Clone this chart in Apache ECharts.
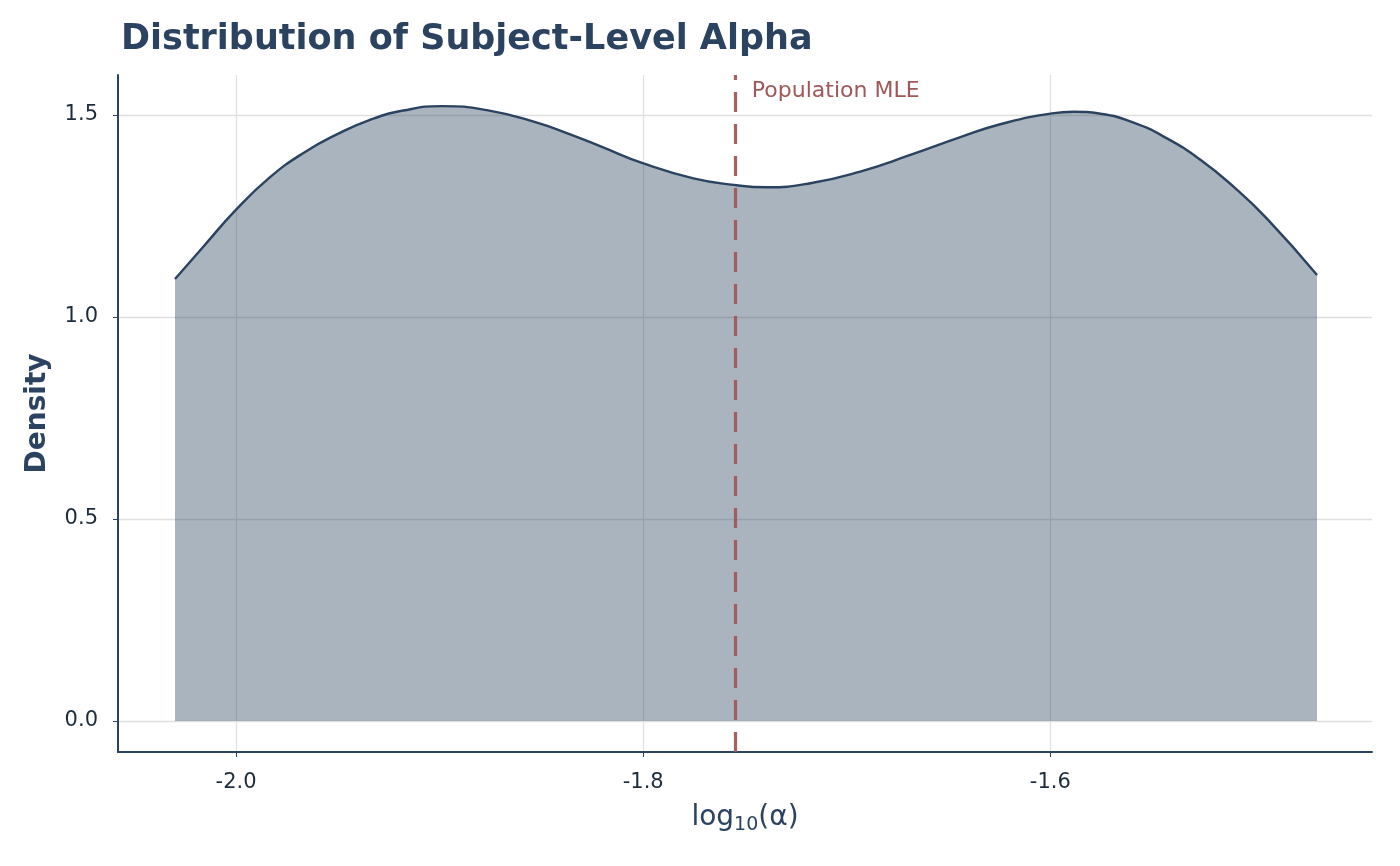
<!DOCTYPE html>
<html>
<head>
<meta charset="utf-8">
<script src="https://cdn.jsdelivr.net/npm/echarts@6/dist/echarts.min.js"></script>
<style>
  html, body { margin: 0; padding: 0; background: #fff; }
  #chart { width: 1400px; height: 866px; }
</style>
</head>
<body>
<div id="chart"></div>
<script>
// density curve
var alphaLog = [-2.0300, -2.0161, -2.0001, -1.9833, -1.9669, -1.9505, -1.9342, -1.9178, -1.8989,
  -1.8768, -1.8522, -1.8359, -1.8203, -1.7999, -1.7753, -1.7556, -1.7392, -1.7179, -1.6934,
  -1.6688, -1.6442, -1.6246, -1.5992, -1.5885, -1.5754, -1.5591, -1.5427, -1.5263, -1.5099,
  -1.4935, -1.4690];
var density = [1.094, 1.174, 1.265, 1.346, 1.406, 1.452, 1.488, 1.511, 1.522,
  1.512, 1.481, 1.452, 1.421, 1.380, 1.343, 1.327, 1.321, 1.331, 1.360,
  1.401, 1.445, 1.477, 1.504, 1.508, 1.503, 1.481, 1.442, 1.389, 1.322,
  1.243, 1.104];
var xTicks = [-2.0, -1.8, -1.6];
var yTicks = [0, 0.5, 1.0, 1.5];
var mle = -1.755;

var navy = '#2b4360';
var red = '#a05858';
var font = 'DejaVu Sans';

var points = alphaLog.map(function (x, i) { return [x, density[i]]; });

var myChart = echarts.init(document.getElementById('chart'));
var option = {
  animation: false,
  title: {
    text: 'Distribution of Subject-Level Alpha',
    left: 116,
    top: 17,
    textStyle: { color: navy, fontSize: 35, fontWeight: 'bold', fontFamily: font }
  },
  grid: { left: 118, right: 28, top: 75, bottom: 114 },
  xAxis: {
    type: 'value',
    min: -2.058,
    max: -1.442,
    name: 'log{sub|10}(α)',
    nameLocation: 'middle',
    nameGap: 48,
    nameTextStyle: {
      color: navy, fontSize: 28, fontFamily: font,
      rich: { sub: { fontSize: 19, verticalAlign: 'bottom', padding: [16, 0, 0, 0], color: navy, fontFamily: font } }
    },
    axisLine: { show: true, onZero: false, lineStyle: { color: navy, width: 2 } },
    axisTick: { show: true, customValues: xTicks, length: 5, lineStyle: { color: navy } },
    axisLabel: {
      customValues: xTicks, color: '#1e2d3b', fontSize: 21, margin: 20, fontFamily: font,
      formatter: function (v) { return v.toFixed(1); }
    },
    splitLine: { show: true, lineStyle: { color: '#e0e0e0', width: 1.3 } }
  },
  yAxis: {
    type: 'value',
    min: -0.077,
    max: 1.599,
    name: 'Density',
    nameLocation: 'middle',
    nameGap: 66,
    nameTextStyle: { color: navy, fontSize: 28, fontWeight: 'bold', fontFamily: font },
    axisLine: { show: true, onZero: false, lineStyle: { color: navy, width: 2 } },
    axisTick: { show: true, customValues: yTicks, length: 5, lineStyle: { color: navy } },
    axisLabel: {
      customValues: yTicks, color: '#1e2d3b', fontSize: 21, margin: 20, fontFamily: font,
      formatter: function (v) { return v.toFixed(1); }
    },
    splitLine: { show: true, lineStyle: { color: '#e0e0e0', width: 1.3 } }
  },
  series: [{
    type: 'line',
    data: points,
    smooth: 0.5,
    showSymbol: false,
    lineStyle: { color: navy, width: 2.4 },
    areaStyle: { color: navy, opacity: 0.4, origin: 0 },
    markLine: {
      silent: true,
      symbol: 'none',
      precision: 4,
      label: { show: false },
      lineStyle: { color: red, width: 3.2, type: [20, 12], opacity: 0.95 },
      data: [{ xAxis: mle }]
    },
    markPoint: {
      silent: true,
      symbol: 'circle',
      symbolSize: 0,
      label: {
        show: true,
        position: 'right',
        distance: 17,
        color: red,
        fontSize: 22,
        fontFamily: font,
        formatter: 'Population MLE'
      },
      data: [{ coord: [mle, 1.559] }]
    }
  }]
};
myChart.setOption(option);
</script>
</body>
</html>
